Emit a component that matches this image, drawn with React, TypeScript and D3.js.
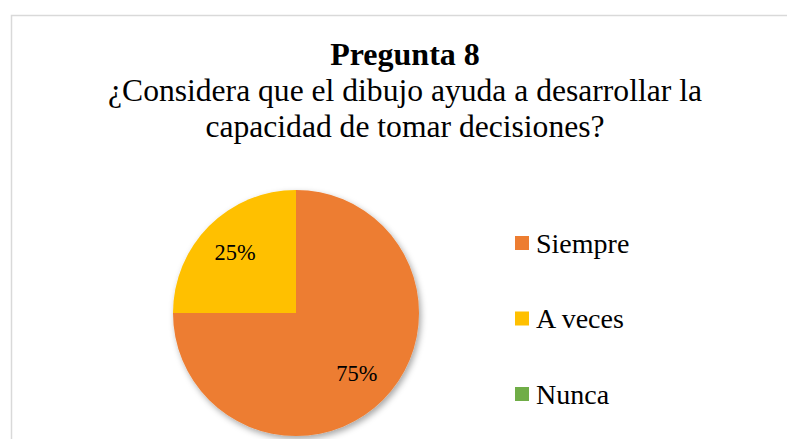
import React from "react";
import * as d3 from "d3";

const categories = ["Siempre", "A veces", "Nunca"];
const values = [75, 25, 0];
const colors = ["#ED7D31", "#FFC000", "#70AD47"];
const title = "Pregunta 8";
const subtitleLines = ["¿Considera que el dibujo ayuda a desarrollar la", "capacidad de tomar decisiones?"];

export default function App() {
  const W = 787, H = 439;
  const cx = 296, cy = 313, r = 123;
  const pie = d3.pie<number>().sort(null).value((d) => d)(values);
  const arc = d3.arc<d3.PieArcDatum<number>>().innerRadius(0).outerRadius(r);
  const labelArc = d3.arc<d3.PieArcDatum<number>>().innerRadius(r * 0.7).outerRadius(r * 0.7);
  const total = d3.sum(values);
  const font = "Liberation Serif, Times New Roman, serif";
  const legendY = d3.scalePoint<string>().domain(categories).range([243, 394]);
  return (
    <svg width={W} height={H} style={{ position: "absolute", left: 0, top: 0, background: "#fff", fontFamily: font }}>
      <defs>
        <filter id="sh" x="-20%" y="-20%" width="140%" height="140%">
          <feDropShadow dx="2" dy="3" stdDeviation="3" floodColor="#000" floodOpacity="0.35" />
        </filter>
      </defs>
      <rect x={11.5} y={15.5} width={W} height={H} fill="#fff" stroke="#d9d9d9" strokeWidth={1.5} />
      <text x={405} y={65} textAnchor="middle" fontSize={32} fontWeight="bold" fill="#000">{title}</text>
      {subtitleLines.map((l, i) => (
        <text key={i} x={405} y={101 + i * 36} textAnchor="middle" fontSize={31.6} fill="#000">{l}</text>
      ))}
      <g transform={`translate(${cx},${cy})`}>
        <g filter="url(#sh)">
          {pie.map((p, i) => (
            <path key={i} d={arc(p) || ""} fill={colors[i]} />
          ))}
        </g>
        {pie.map((p, i) => {
          if (p.data === 0) return null;
          const [x, y] = labelArc.centroid(p);
          return (
            <text key={i} x={x} y={y} textAnchor="middle" dominantBaseline="central" fontSize={22.4} fill="#000">
              {Math.round((p.data / total) * 100)}%
            </text>
          );
        })}
      </g>
      {categories.map((c, i) => (
        <g key={c} transform={`translate(515,${legendY(c)})`}>
          <rect x={0} y={-7} width={14} height={14} fill={colors[i]} />
          <text x={21} y={0} dominantBaseline="central" fontSize={28} fill="#000">{c}</text>
        </g>
      ))}
    </svg>
  );
}
